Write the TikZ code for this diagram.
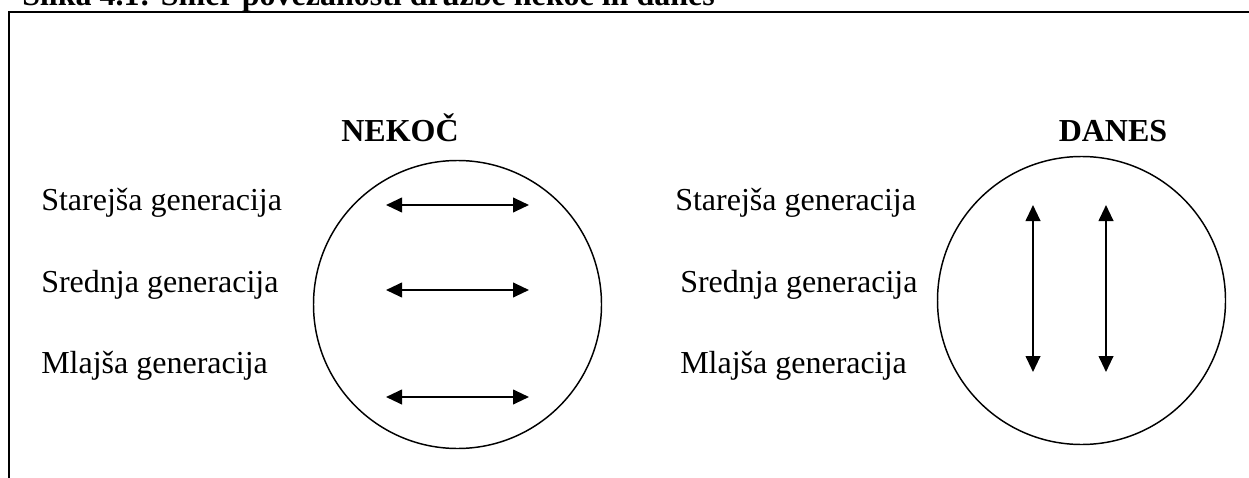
\documentclass[tikz,border=0pt]{standalone}
\usepackage{fontspec}
\setmainfont{Liberation Serif}
\usetikzlibrary{arrows.meta}

\begin{document}
\begin{tikzpicture}[x=0.75pt,y=-0.75pt,
    gen/.style={anchor=base west,inner sep=0pt,font=\fontsize{24pt}{28pt}\selectfont},
    head/.style={anchor=base,inner sep=0pt,font=\fontsize{24pt}{28pt}\selectfont\bfseries},
    ring/.style={draw,circle,line width=1.1pt,minimum size=216pt,inner sep=0pt},
    link/.style={line width=1.5pt,{Triangle[length=12pt,width=11pt]}-{Triangle[length=12pt,width=11pt]}}]
    \clip (0,0) rectangle (1249,478);
    \node[anchor=base west,inner sep=0pt,font=\fontsize{24pt}{28pt}\selectfont\bfseries] (title) at (22,6) {Slika 4.1: Smer povezanosti družbe nekoč in danes};
    \draw[line width=1.5pt] (9,480) -- (9,12) -- (1252,12);
    \node[head] (nekoc) at (400,141) {NEKOČ};
    \node[head] (danes) at (1113,141) {DANES};
    \node[gen] (old1) at (41,210) {Starejša generacija};
    \node[gen] (mid1) at (41,292) {Srednja generacija};
    \node[gen] (young1) at (41,373) {Mlajša generacija};
    \node[gen] (old2) at (675,210) {Starejša generacija};
    \node[gen] (mid2) at (680,292) {Srednja generacija};
    \node[gen] (young2) at (680,373) {Mlajša generacija};
    \node[ring] (then) at (457.5,304.5) {};
    \node[ring] (now) at (1081.5,300.5) {};
    \coordinate (a1) at (386,205);
    \coordinate (b1) at (529,205);
    \coordinate (a2) at (386,290);
    \coordinate (b2) at (529,290);
    \coordinate (a3) at (386,397);
    \coordinate (b3) at (529,397);
    \coordinate (c1) at (1033,205);
    \coordinate (d1) at (1033,372);
    \coordinate (c2) at (1106,205);
    \coordinate (d2) at (1106,372);
    \draw[link] (a1) -- (b1);
    \draw[link] (a2) -- (b2);
    \draw[link] (a3) -- (b3);
    \draw[link] (c1) -- (d1);
    \draw[link] (c2) -- (d2);
\end{tikzpicture}
\end{document}
